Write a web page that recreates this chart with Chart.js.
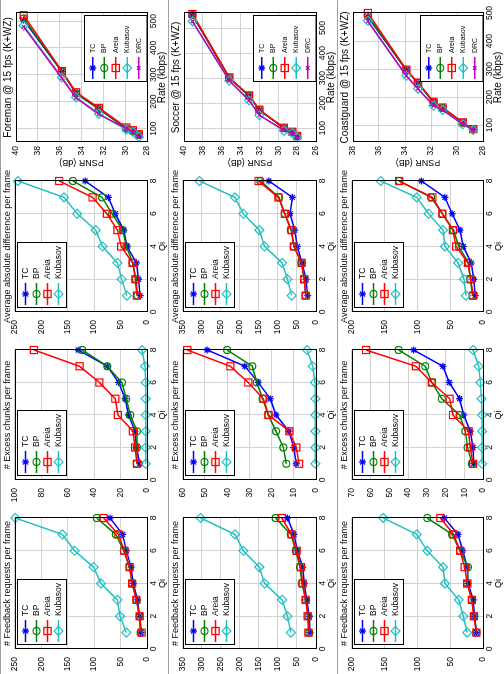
<!DOCTYPE html>
<html>
<head>
<meta charset="utf-8">
<script src="https://cdn.jsdelivr.net/npm/chart.js@4.4.0/dist/chart.umd.min.js"></script>
<style>
  html, body { margin: 0; padding: 0; background: #fff; width: 504px; height: 674px; overflow: hidden; }
  /* the figure is laid out landscape and then turned a quarter turn to the left */
  #fig { position: absolute; left: 0; top: 0; width: 674px; height: 504px; background: #fff;
         transform-origin: 0 0; transform: translate(0px, 674px) rotate(-90deg); }
  .cell { position: absolute; overflow: hidden; }
  .cell canvas { display: block; }
  .sep { position: absolute; background: #a0a0a0; }
</style>
</head>
<body>
<div id="fig"></div>
<script>
// ---- data ----
const qi = [1, 2, 3, 4, 5, 6, 7, 8];
const qiMethods = ['TC', 'BP', 'Areia', 'Kubasov'];
const rdMethods = ['TC', 'BP', 'Areia', 'Kubasov', 'DRC'];
const videos = ['Foreman', 'Soccer', 'Coastguard'];

// # Feedback requests per frame (rows: TC, BP, Areia, Kubasov)
const feedbackForeman = [
  [12, 14, 18, 26, 30, 39, 46, 70],
  [12, 14, 20, 28, 33, 44, 59, 95],
  [10, 14, 20, 28, 33, 43, 54, 82],
  [39, 51, 56, 87, 101, 137, 160, 249]
];
const feedbackSoccer = [
  [16, 18, 24, 31, 35, 49, 58, 75],
  [18, 20, 27, 37, 42, 53, 66, 106],
  [20, 22, 27, 35, 40, 51, 64, 90],
  [66, 75, 89, 135, 149, 191, 213, 303]
];
const feedbackCoastguard = [
  [10, 13, 15, 23, 24, 31, 38, 59],
  [10, 13, 17, 24, 23, 35, 47, 85],
  [10, 14, 17, 24, 28, 35, 45, 65],
  [24, 30, 37, 58, 61, 85, 101, 152]
];

// # Excess chunks per frame
const excessForeman = [
  [5.5, 8, 9, 14, 16.5, 21.5, 30, 52],
  [7.6, 7.6, 7.6, 12.7, 15.7, 19, 30, 49],
  [7.6, 9, 10.6, 22, 24, 36, 51, 85.5],
  [1, 1, 1, 1, 1, 1, 1.5, 3.8]
];
const excessSoccer = [
  [8.9, 10, 12.2, 18, 20.6, 26, 32, 49],
  [13.4, 14.7, 18, 21.5, 24, 26.7, 28.7, 40],
  [7.6, 8.9, 12, 21.4, 23.7, 30.5, 38.6, 58],
  [0.3, 0.3, 0.3, 0.3, 0.3, 0.5, 1.5, 4]
];
const excessCoastguard = [
  [5, 5.3, 6.8, 10.3, 12.5, 18, 21.4, 37],
  [5.9, 8.2, 9.4, 12.5, 22, 27.3, 30.8, 45],
  [5.3, 6.8, 7.7, 16, 17.8, 27.3, 35.8, 62.4],
  [0.5, 0.5, 0.5, 0.5, 0.8, 1.4, 2.3, 5.3]
];

// Average absolute difference per frame
const avgdiffForeman = [
  [13, 16, 20, 38, 44, 60, 73, 117],
  [18, 21, 27, 39, 46, 66, 85, 140],
  [19, 22, 27, 49, 56, 76, 103, 166],
  [38, 48, 56, 84, 97, 132, 157, 244]
];
const avgdiffSoccer = [
  [22, 26, 37, 49, 56, 68, 62, 124],
  [27, 31, 38, 58, 66, 82, 97, 146],
  [27, 31, 38, 58, 64, 82, 99, 151],
  [64, 75, 89, 135, 149, 191, 213, 306]
];
const avgdiffCoastguard = [
  [12, 14, 18, 30, 35, 47, 58, 94],
  [16, 19, 22, 37, 45, 62, 79, 128],
  [15, 19, 23, 41, 46, 62, 77, 128],
  [26, 29, 38, 58, 61, 83, 101, 156]
];

// PSNR (dB) vs rate (kbps), rows: TC, BP, Areia, Kubasov, DRC
const psnrForeman = [39.3, 35.8, 34.5, 32.4, 29.9, 29.3, 28.75];
const rateForeman = [
  [504, 312, 231, 173, 100, 91, 76],
  [510, 312, 231, 173, 100, 91, 76],
  [522, 314, 235, 177, 104, 94, 79],
  [483, 290, 216, 155, 96, 88, 69],
  [479, 287, 214, 153, 100, 87, 69]
];
const psnrSoccer = [39.1, 35.2, 33.1, 32.0, 29.4, 28.5, 28.0];
const rateSoccer = [
  [552, 301, 229, 172, 100, 84, 67],
  [552, 301, 229, 172, 100, 84, 67],
  [556, 303, 231, 174, 102, 86, 69],
  [527, 290, 211, 152, 90, 80, 63],
  [527, 290, 211, 152, 92, 80, 63]
];
const psnrCoastguard = [36.85, 33.9, 33.0, 31.8, 31.1, 29.55, 28.75];
const rateCoastguard = [
  [486, 296, 250, 181, 161, 109, 85],
  [490, 296, 250, 181, 161, 109, 85],
  [500, 298, 252, 183, 163, 110, 86],
  [472, 276, 230, 169, 154, 103, 83],
  [470, 276, 230, 169, 154, 103, 83]
];

// axis ranges
const qiTicks = [0, 2, 4, 6, 8];
const rateTicks = [100, 200, 300, 400, 500];
const feedbackMax = [250, 350, 200];
const excessMax = [100, 60, 70];
const excessStep = [20, 10, 10];
const avgdiffMax = [250, 350, 200];
const rateRange = [[50, 530], [45, 560], [40, 500]];
const psnrRange = [[28, 40], [26, 40], [28, 38]];

// ---- styling ----
const FONT = '"Liberation Sans", Arial, Helvetica, sans-serif';
Chart.defaults.font.family = FONT;
Chart.defaults.color = '#000';

const colors = { TC: '#0000ff', BP: '#008000', Areia: '#ff0000', Kubasov: '#22c0c0', DRC: '#bf00bf' };
const markers = { TC: 'star', BP: 'circle', Areia: 'rect', Kubasov: 'rectRot', DRC: 'crossRot' };
const radii = { TC: 3.5, BP: 3.5, Areia: 5, Kubasov: 4.5, DRC: 2.5 };

// cells of the landscape figure
const colX = [0, 169, 337, 506];
const colW = [169, 168, 169, 168];
const rowY = [0, 168, 337];
const rowH = [168, 169, 167];

// box round the plot area, and the title centred on it
const frameBox = {
  id: 'frameBox',
  afterLayout(chart) {
    const t = chart.titleBlock, a = chart.chartArea;
    if (!t) return;
    const c = (a.left + a.right) / 2;
    t.left = c - 110;
    t.right = c + 110;
    t.width = 220;
  },
  afterDatasetsDraw(chart) {
    const a = chart.chartArea, ctx = chart.ctx;
    ctx.save();
    ctx.strokeStyle = '#000';
    ctx.lineWidth = 1;
    ctx.strokeRect(Math.round(a.left) + 0.5, Math.round(a.top) + 0.5,
                   Math.round(a.right - a.left), Math.round(a.bottom - a.top));
    ctx.restore();
  }
};

// matlab style legend drawn inside the axes
const boxLegend = {
  id: 'boxLegend',
  afterDraw(chart, args, opts) {
    const ctx = chart.ctx, a = chart.chartArea;
    const sets = chart.data.datasets;
    const w = opts.width, h = sets.length * opts.row + 5;
    const x0 = Math.round(opts.corner === 'se' ? a.right - w - 3 : a.left + 4);
    const y0 = Math.round(opts.corner === 'se' ? a.bottom - h - 1 : a.top + 2);
    ctx.save();
    ctx.fillStyle = '#fff';
    ctx.fillRect(x0, y0, w, h);
    ctx.strokeStyle = '#000';
    ctx.lineWidth = 1;
    ctx.strokeRect(x0 + 0.5, y0 + 0.5, w, h);
    sets.forEach((ds, i) => {
      const cy = y0 + 3 + opts.row * (i + 0.5);
      ctx.strokeStyle = ds.borderColor;
      ctx.lineWidth = ds.borderWidth;
      ctx.beginPath();
      ctx.moveTo(x0 + 3, cy);
      ctx.lineTo(x0 + 25, cy);
      ctx.stroke();
      ctx.fillStyle = 'rgba(0,0,0,0)';
      ctx.lineWidth = ds.pointBorderWidth;
      Chart.helpers.drawPoint(ctx, { pointStyle: ds.pointStyle, radius: ds.pointRadius, borderWidth: ds.pointBorderWidth, rotation: 0 }, x0 + 14, cy);
      ctx.fillStyle = '#000';
      ctx.font = opts.font + 'px ' + FONT;
      ctx.textBaseline = 'middle';
      ctx.textAlign = 'left';
      ctx.fillText(ds.label, x0 + 29, cy);
    });
    ctx.restore();
  }
};

function makeSets(names, xs, ys) {
  return names.map((m, i) => ({
    label: m,
    data: xs[i].map((x, k) => ({ x: x, y: ys[i][k] })),
    borderColor: colors[m],
    backgroundColor: colors[m],
    borderWidth: 1.5,
    pointStyle: markers[m],
    pointRadius: radii[m],
    pointBorderWidth: 1.2,
    pointBackgroundColor: 'rgba(0,0,0,0)',
    pointBorderColor: colors[m],
    tension: 0,
    clip: false,
    order: -i
  }));
}

function axis(min, max, tickList, step, title, titleSize, fitKey, fitVal, pad) {
  return {
    type: 'linear',
    min: min,
    max: max,
    afterBuildTicks: tickList ? (s => { s.ticks = tickList.map(v => ({ value: v })); }) : undefined,
    ticks: { stepSize: step, font: { size: 8.5 }, color: '#000', padding: pad, maxRotation: 0, autoSkip: false },
    grid: { color: '#d2d2d2', drawTicks: false },
    border: { display: false },
    title: { display: !!title, text: title, font: { size: titleSize }, color: '#000', padding: { top: 0, bottom: 0 } },
    afterFit: s => { s[fitKey] = fitVal; }
  };
}

function addPanel(col, row, datasets, xScale, yScale, title, titleSize, legend) {
  const fig = document.getElementById('fig');
  const cell = document.createElement('div');
  cell.className = 'cell';
  cell.style.left = colX[col] + 'px';
  cell.style.top = rowY[row] + 'px';
  cell.style.width = colW[col] + 'px';
  cell.style.height = rowH[row] + 'px';
  const cv = document.createElement('canvas');
  cv.width = colW[col];
  cv.height = rowH[row];
  cell.appendChild(cv);
  fig.appendChild(cell);

  new Chart(cv.getContext('2d'), {
    type: 'line',
    data: { datasets: datasets },
    options: {
      responsive: false,
      animation: false,
      devicePixelRatio: 1,
      layout: { padding: { right: 13, top: 0, left: 0, bottom: 0 } },
      scales: { x: xScale, y: yScale },
      plugins: {
        legend: { display: false },
        tooltip: { enabled: false },
        title: { display: true, text: title, fullSize: false, color: '#000',
                 font: { size: titleSize, weight: 'normal' }, padding: { top: 2, bottom: 2 } },
        boxLegend: legend
      }
    },
    plugins: [frameBox, boxLegend]
  });
}

const qiX = qiMethods.map(() => qi);
const qiLegend = { corner: 'nw', width: 65, row: 11, font: 8.5 };
const rdLegend = { corner: 'se', width: 66, row: 11.5, font: 7 };

videos.forEach((v, r) => {
  const fb = [feedbackForeman, feedbackSoccer, feedbackCoastguard][r];
  const ex = [excessForeman, excessSoccer, excessCoastguard][r];
  const av = [avgdiffForeman, avgdiffSoccer, avgdiffCoastguard][r];
  const ps = [psnrForeman, psnrSoccer, psnrCoastguard][r];
  const rt = [rateForeman, rateSoccer, rateCoastguard][r];

  addPanel(0, r, makeSets(qiMethods, qiX, fb),
    axis(0, 8, qiTicks, 2, 'Qi', 9, 'height', 21, 2),
    axis(0, feedbackMax[r], null, 50, '', 9, 'width', 25, 8),
    '# Feedback requests per frame', 9, qiLegend);

  addPanel(1, r, makeSets(qiMethods, qiX, ex),
    axis(0, 8, qiTicks, 2, 'Qi', 9, 'height', 21, 2),
    axis(0, excessMax[r], null, excessStep[r], '', 9, 'width', 25, 8),
    '# Excess chunks per frame', 9, qiLegend);

  addPanel(2, r, makeSets(qiMethods, qiX, av),
    axis(0, 8, qiTicks, 2, 'Qi', 9, 'height', 21, 2),
    axis(0, avgdiffMax[r], null, 50, '', 9, 'width', 25, 8),
    'Average absolute difference per frame', 9, qiLegend);

  addPanel(3, r, makeSets(rdMethods, rt, rdMethods.map(() => ps)),
    axis(rateRange[r][0], rateRange[r][1], rateTicks, 100, 'Rate (kbps)', 10, 'height', 21, 2),
    axis(psnrRange[r][0], psnrRange[r][1], null, 2, 'PSNR (dB)', 9, 'width', 26, 4),
    v + ' @ 15 fps (K+WZ)', 10, rdLegend);
});

// thin grey lines that separate the sub figures
[0, 168, 337].forEach(y => {
  const d = document.createElement('div');
  d.className = 'sep';
  d.style.left = '0px'; d.style.top = y + 'px'; d.style.width = '674px'; d.style.height = '1px';
  document.getElementById('fig').appendChild(d);
});
</script>
</body>
</html>
